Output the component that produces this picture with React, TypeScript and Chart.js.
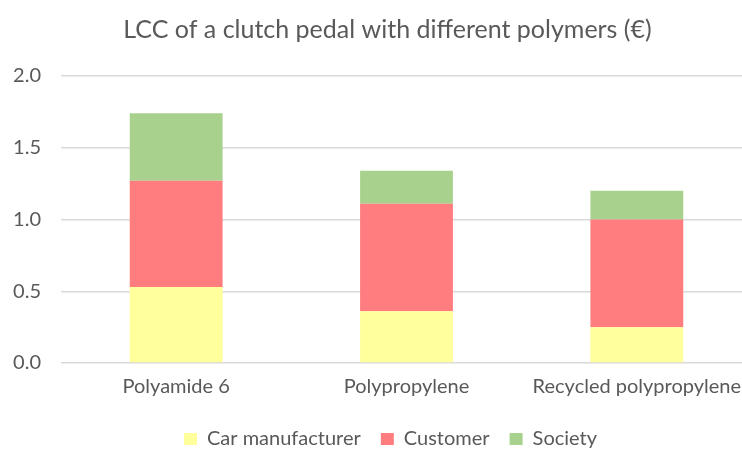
import React, { useEffect, useRef } from "react";
import { Chart, registerables } from "chart.js";

Chart.register(...registerables);

const categories = ["Polyamide 6", "Polypropylene", "Recycled polypropylene"];
const carManufacturer = [0.53, 0.36, 0.25];
const customer = [0.74, 0.75, 0.75];
const society = [0.47, 0.23, 0.2];
const titleText = "LCC of a clutch pedal with different polymers (€)";

const FONT = "Lato, 'Open Sans', sans-serif";
const TEXT = "#595959";

const shiftBlocks = {
  id: "shiftBlocks",
  afterLayout(chart: any) {
    const l = chart.legend;
    if (l) {
      l.left += 8;
      l.right += 8;
    }
    const t = chart.titleBlock;
    if (t) {
      t.left += 5;
      t.right += 5;
    }
  },
};

export default function App() {
  const ref = useRef<HTMLCanvasElement | null>(null);
  useEffect(() => {
    if (!ref.current) return;
    const chart = new Chart(ref.current, {
      type: "bar",
      data: {
        labels: categories,
        datasets: [
          { label: "Car manufacturer", data: carManufacturer, backgroundColor: "#FFFF9B" },
          { label: "Customer", data: customer, backgroundColor: "#FF7C7F" },
          { label: "Society", data: society, backgroundColor: "#A9D18E" },
        ],
      },
      plugins: [shiftBlocks],
      options: {
        responsive: false,
        animation: false,
        maintainAspectRatio: false,
        layout: { padding: { left: 13, right: 24, top: 8, bottom: -9 } },
        datasets: { bar: { categoryPercentage: 1, barPercentage: 0.403 } },
        plugins: {
          title: {
            display: true,
            text: titleText,
            color: TEXT,
            font: { family: FONT, size: 25, weight: "normal" },
            padding: { top: 7, bottom: 31 },
          },
          legend: {
            position: "bottom",
            labels: {
              color: TEXT,
              font: { family: FONT, size: 20 },
              boxWidth: 13,
              boxHeight: 12,
              padding: 20,
            },
          },
          tooltip: { enabled: false },
        },
        scales: {
          x: {
            stacked: true,
            grid: { display: false },
            border: { display: false },
            afterFit: (s: any) => {
              s.height += 6;
            },
            ticks: { color: TEXT, font: { family: FONT, size: 20 }, padding: 4, maxRotation: 0 },
          },
          y: {
            stacked: true,
            min: 0,
            max: 2,
            afterFit: (s: any) => {
              s.width = 48;
            },
            ticks: {
              stepSize: 0.5,
              color: TEXT,
              font: { family: FONT, size: 20 },
              padding: 20,
              callback: (v: any) => Number(v).toFixed(1),
            },
            grid: { color: "#D9D9D9", lineWidth: 1.5, drawTicks: false },
            border: { display: false },
          },
        },
      },
    });
    return () => chart.destroy();
  }, []);
  return (
    <div style={{ position: "fixed", left: 0, top: 0, width: 742, height: 450, overflow: "hidden", background: "#fff" }}>
      <canvas ref={ref} width={776} height={450} style={{ display: "block" }} />
    </div>
  );
}
